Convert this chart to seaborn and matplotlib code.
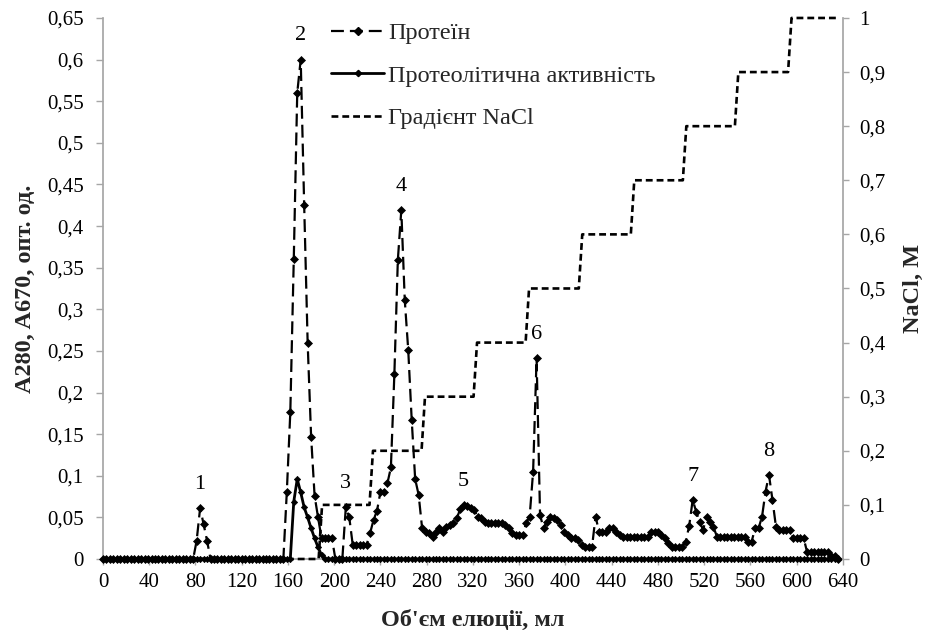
import numpy as np
import pandas as pd
import matplotlib
matplotlib.use("Agg")
import matplotlib.pyplot as plt
import seaborn as sns
from matplotlib.lines import Line2D
from matplotlib.ticker import FuncFormatter, FixedLocator

# ---------------- data ----------------
fraction_step_ml = 3  # fractions collected every 3 ml, 0 ... 636 ml

# Protein, A280 (one value per fraction, rows of 10 fractions = 30 ml)
protein_a280 = (
    [0, 0, 0, 0, 0, 0, 0, 0, 0, 0]                                              # 0-27
    + [0, 0, 0, 0, 0, 0, 0, 0, 0, 0]                                            # 30-57
    + [0, 0, 0, 0, 0, 0, 0, 0.022, 0.061, 0.042]                                # 60-87
    + [0.022, 0, 0, 0, 0, 0, 0, 0, 0, 0]                                        # 90-117
    + [0, 0, 0, 0, 0, 0, 0, 0, 0, 0]                                            # 120-147
    + [0, 0, 0, 0.081, 0.176, 0.36, 0.56, 0.60, 0.425, 0.26]                    # 150-177
    + [0.147, 0.076, 0.05, 0.025, 0.025, 0.025, 0.025, 0, 0, 0]                 # 180-207
    + [0.062, 0.05, 0.017, 0.017, 0.017, 0.017, 0.017, 0.031, 0.047, 0.058]     # 210-237
    + [0.081, 0.081, 0.091, 0.11, 0.222, 0.359, 0.419, 0.311, 0.251, 0.167]     # 240-267
    + [0.096, 0.077, 0.037, 0.033, 0.031, 0.027, 0.033, 0.037, 0.033, 0.039]    # 270-297
    + [0.041, 0.043, 0.049, 0.06, 0.065, 0.064, 0.061, 0.059, 0.051, 0.049]     # 300-327
    + [0.045, 0.043, 0.043, 0.043, 0.043, 0.043, 0.041, 0.037, 0.031, 0.029]    # 330-357
    + [0.029, 0.029, 0.043, 0.051, 0.105, 0.241, 0.053, 0.037, 0.045, 0.051]    # 360-387
    + [0.049, 0.047, 0.041, 0.033, 0.029, 0.025, 0.025, 0.023, 0.017, 0.015]    # 390-417
    + [0.015, 0.015, 0.051, 0.033, 0.033, 0.033, 0.037, 0.037, 0.033, 0.029]    # 420-447
    + [0.027, 0.027, 0.027, 0.027, 0.027, 0.027, 0.027, 0.027, 0.033, 0.033]    # 450-477
    + [0.033, 0.029, 0.025, 0.019, 0.015, 0.015, 0.015, 0.015, 0.021, 0.04]     # 480-507
    + [0.071, 0.057, 0.045, 0.035, 0.051, 0.045, 0.038, 0.027, 0.027, 0.027]    # 510-537
    + [0.027, 0.027, 0.027, 0.027, 0.027, 0.027, 0.021, 0.021, 0.037, 0.037]    # 540-567
    + [0.051, 0.081, 0.101, 0.071, 0.039, 0.035, 0.035, 0.035, 0.035, 0.025]    # 570-597
    + [0.025, 0.025, 0.025, 0.008, 0.008, 0.008, 0.008, 0.008, 0.008, 0.008]    # 600-627
    + [0.003, 0.003, 0]                                                         # 630-636
)

# Proteolytic activity, A670 (same fractions)
activity_a670 = (
    [0] * 55                                                                    # 0-162
    + [0.069, 0.096, 0.08, 0.062, 0.05, 0.037, 0.025, 0.014, 0.005]             # 165-189
    + [0] * 149                                                                 # 192-636
)

# NaCl step gradient: volume where each step begins and its concentration
nacl_step_start_ml = [0, 188, 232, 277, 322, 367, 413, 458, 503, 548, 594]
nacl_step_molar = [0, 0.1, 0.2, 0.3, 0.4, 0.5, 0.6, 0.7, 0.8, 0.9, 1.0]
nacl_end_ml = 634

# Peak numbers and the fraction volume of each peak maximum
peak_names = ["1", "2", "3", "4", "5", "6", "7", "8"]
peak_ml = [84, 171, 210, 258, 312, 375, 510, 576]

x_ticks = list(range(0, 641, 40))
left_ticks = [0, 0.05, 0.1, 0.15, 0.2, 0.25, 0.3, 0.35, 0.4, 0.45, 0.5, 0.55, 0.6, 0.65]
right_ticks = [0, 0.1, 0.2, 0.3, 0.4, 0.5, 0.6, 0.7, 0.8, 0.9, 1.0]

legend_labels = ["Протеїн", "Протеолітична активність", "Градієнт NaCl"]
xlabel = "Об'єм елюції, мл"
ylabel_left = "A280, A670, опт. од."
ylabel_right = "NaCl, M"

# ---------------- tables ----------------
volume_ml = fraction_step_ml * np.arange(len(protein_a280))
df = pd.DataFrame({"volume": volume_ml,
                   "protein": protein_a280,
                   "activity": activity_a670})

# gradient as sampled per fraction: vertical rises between neighbouring fractions
gx, gy = [], []
for i, (s, c) in enumerate(zip(nacl_step_start_ml, nacl_step_molar)):
    start = s if i == 0 else s + fraction_step_ml / 2
    end = (nacl_step_start_ml[i + 1] - fraction_step_ml / 2
           if i + 1 < len(nacl_step_start_ml) else nacl_end_ml)
    gx += [start, end]
    gy += [c, c]
grad = pd.DataFrame({"volume": gx, "nacl": gy})

# ---------------- style ----------------
sns.set_theme(style="white")
plt.rcParams["font.family"] = ["Liberation Serif", "DejaVu Serif"]
plt.rcParams["axes.unicode_minus"] = False

FS = 15       # tick labels, peak numbers
FS_BIG = 17.5  # legend and axis titles
GREY = "#a6a6a6"
protein_ls = (0, (5.8, 2.7))
grad_ls = (0, (2.6, 1.5))

fig = plt.figure(figsize=(9.32, 6.42), dpi=100)
ax = fig.add_axes([0.1105, 0.1293, 0.794, 0.8427])

sns.lineplot(data=df, x="volume", y="activity", ax=ax, color="black",
             lw=2.0, marker="D", markersize=3.2, markeredgecolor="black",
             markeredgewidth=0.5, clip_on=False, legend=False, zorder=3)
sns.lineplot(data=df, x="volume", y="protein", ax=ax, color="black",
             lw=1.6, linestyle=protein_ls, marker="D", markersize=4.5,
             markeredgecolor="black", markeredgewidth=0.5, clip_on=False,
             legend=False, zorder=4)

ax.set_xlim(0, 640)
ax.set_ylim(0, 0.65)

ax2 = ax.twinx()
sns.lineplot(data=grad, x="volume", y="nacl", ax=ax2, color="black",
             lw=1.9, linestyle=grad_ls, sort=False, estimator=None,
             legend=False, clip_on=False)
ax2.set_ylim(0, 1)
ax2.set_xlim(0, 640)

# peak numbers
prot_lookup = dict(zip(volume_ml, protein_a280))
for name, v in zip(peak_names, peak_ml):
    ax.annotate(name, xy=(v, prot_lookup[v]), xytext=(0, 17),
                textcoords="offset points", ha="center", va="center",
                fontsize=FS + 1, color="black")

# ticks & formatting
comma = FuncFormatter(lambda v, p: ("%g" % round(v, 2)).replace(".", ","))
ax.xaxis.set_major_locator(FixedLocator(x_ticks))
ax.yaxis.set_major_locator(FixedLocator(left_ticks))
ax2.yaxis.set_major_locator(FixedLocator(right_ticks))
ax.yaxis.set_major_formatter(comma)
ax2.yaxis.set_major_formatter(comma)

for a in (ax, ax2):
    for sp in a.spines.values():
        sp.set_visible(False)
ax.spines["left"].set_visible(True)
ax.spines["left"].set_color(GREY)
ax.spines["bottom"].set_visible(True)
ax.spines["bottom"].set_color(GREY)
ax2.spines["right"].set_visible(True)
ax2.spines["right"].set_color(GREY)

ax.tick_params(axis="x", direction="out", length=4, width=1, color=GREY,
               labelsize=FS, pad=6, bottom=True, labelcolor="black")
ax.tick_params(axis="y", direction="out", length=5, width=1, color=GREY,
               labelsize=FS, pad=9, left=True, labelcolor="black")
ax2.tick_params(axis="y", direction="out", length=4, width=1, color=GREY,
                labelsize=FS, pad=8, right=True, labelcolor="black")
ax.grid(False)
ax2.grid(False)

ax.set_xlabel(xlabel, fontsize=FS_BIG, fontweight="bold", labelpad=13)
ax.set_ylabel(ylabel_left, fontsize=FS_BIG, fontweight="bold", labelpad=8)
ax2.set_ylabel(ylabel_right, fontsize=FS_BIG, fontweight="bold", labelpad=12)

handles = [
    Line2D([], [], color="black", lw=1.6, ls=protein_ls, marker="D",
           markersize=4.5, markeredgecolor="black"),
    Line2D([], [], color="black", lw=2.0, ls="-", marker="D",
           markersize=3.2, markeredgecolor="black"),
    Line2D([], [], color="black", lw=1.9, ls=grad_ls),
]
fig.legend(handles, legend_labels, loc="upper left",
           bbox_to_anchor=(331 / 932, 1 - 22 / 642), frameon=False,
           fontsize=FS_BIG, handlelength=2.2, handletextpad=0.15,
           labelspacing=0.85, borderpad=0, borderaxespad=0)

fig.savefig("out.png", dpi=100, facecolor="white")
